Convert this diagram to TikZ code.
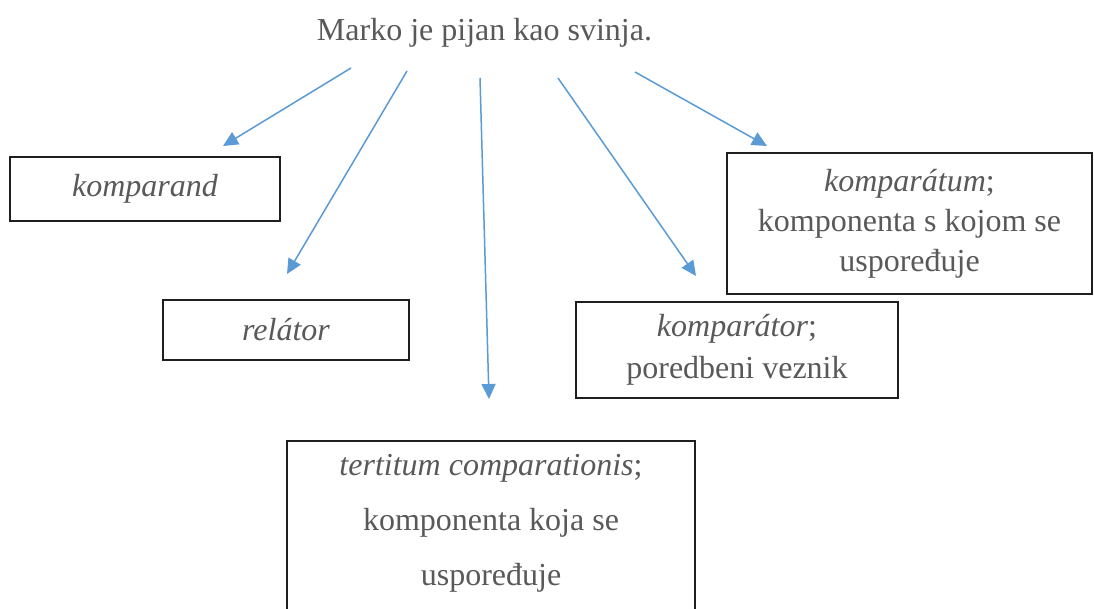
\documentclass[tikz,border=0pt]{standalone}
\usepackage{fontspec}
\setmainfont{Liberation Serif}
\usetikzlibrary{arrows.meta}
\definecolor{arrowblue}{HTML}{5B9BD5}
\definecolor{textgray}{HTML}{595959}
\definecolor{boxline}{HTML}{1F1F1F}
\begin{document}
\begin{tikzpicture}[x=1pt,y=-1pt,
  every node/.style={text=textgray,font=\fontsize{32}{38}\selectfont},
  termbox/.style={draw=boxline,line width=1.5pt,inner sep=0pt,align=center},
  conn/.style={draw=arrowblue,line width=1.5pt,-{Triangle[length=15pt,width=14pt]}}]
\clip (0,0) rectangle (1094,608);
\fill[white] (0,0) rectangle (1094,608);
\node[anchor=base] (title) at (484.5,40) {Marko je pijan kao svinja.};
\node[termbox,minimum width=270pt,minimum height=64pt] (komparand) at (145,189) {\itshape komparand};
\node[termbox,minimum width=246pt,minimum height=60pt] (relator) at (286,330) {\itshape relátor};
\node[termbox,minimum width=408pt,anchor=north,inner ysep=14pt,text depth=30pt,
  font=\fontsize{32}{55}\selectfont] (tertium) at (491,440)
  {\textit{tertitum comparationis};\\komponenta koja se\\uspoređuje};
\node[termbox,minimum width=322pt,minimum height=96pt,font=\fontsize{32}{42}\selectfont] (komparator) at (737,350)
  {\textit{komparátor};\\poredbeni veznik};
\node[termbox,minimum width=365pt,minimum height=141pt,font=\fontsize{32}{40}\selectfont] (komparatum) at (909.5,223.5)
  {\textit{komparátum};\\komponenta s kojom se\\uspoređuje};
\coordinate (s1) at (351,68);  \coordinate (t1) at (223,146);
\coordinate (s2) at (407,71);  \coordinate (t2) at (287,274);
\coordinate (s3) at (480,78);  \coordinate (t3) at (489,399);
\coordinate (s4) at (558,78);  \coordinate (t4) at (696,276);
\coordinate (s5) at (635,72);  \coordinate (t5) at (767,146);
\draw[conn] (s1) -- (t1);
\draw[conn] (s2) -- (t2);
\draw[conn] (s3) -- (t3);
\draw[conn] (s4) -- (t4);
\draw[conn] (s5) -- (t5);
\end{tikzpicture}
\end{document}
